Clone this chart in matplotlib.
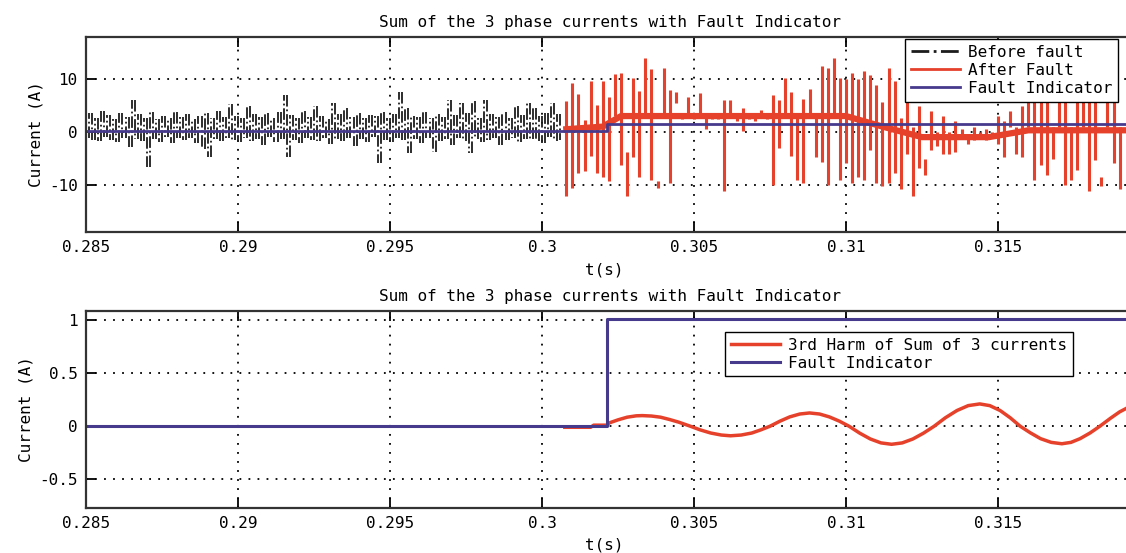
# Librerías
import matplotlib
matplotlib.use("Agg")
import matplotlib.pyplot as plt
import numpy as np

# %% Datos
paso = 0.0001          # separación entre muestras (s)
t0_antes = 0.285       # inicio de la señal antes de la falla
t0_despues = 0.3008    # inicio de la señal después de la falla

# Suma de corrientes antes de la falla (A)
antes = [2.8, -1.2, 3.5, -1.5, 2.6, -1.8, 3.9, -1.0, 3.2, -1.6,
         2.4, -2.0, 3.6, -1.1, 2.9, -2.9, 6.1, -1.3, 3.3, -1.7,
         2.7, -6.6, 3.8, -1.4, 2.5, -1.9, 3.1, -1.0, 2.6, -2.2,
         3.7, -1.2, 2.8, -1.6, 3.4, -1.1, 2.5, -2.1, 3.0, -3.2,
         3.6, -4.7, 2.7, -1.3, 3.9, -1.8, 2.9, -1.2, 5.2, -1.5,
         3.1, -2.0, 2.6, -1.1, 4.9, -1.7, 3.3, -1.3, 2.8, -2.4,
         3.5, -1.0, 2.7, -1.9, 3.8, -1.4, 7.0, -4.7, 3.2, -1.6,
         2.6, -2.1, 3.9, -1.2, 2.9, -1.5, 4.9, -1.8, 3.1, -1.1,
         2.5, -2.3, 5.5, -1.4, 3.4, -1.7, 4.6, -1.2, 2.8, -2.6,
         3.6, -1.3, 2.7, -1.9, 3.2, -1.0, 3.0, -6.0, 3.7, -1.5,
         2.6, -2.0, 3.3, -1.2, 7.6, -1.6, 4.6, -4.1, 3.1, -1.3,
         2.9, -2.2, 3.8, -1.1, 2.6, -3.8, 3.4, -1.7, 2.8, -1.4,
         6.1, -2.5, 3.2, -1.2, 5.5, -1.8, 3.6, -4.1, 5.8, -1.3,
         2.7, -2.0, 6.1, -1.5, 3.3, -1.1, 2.9, -2.4, 3.7, -1.6,
         2.6, -1.2, 4.9, -1.9, 3.2, -1.4, 5.5, -1.3, 4.6, -1.7,
         3.0, -2.2, 3.5, -1.0, 5.5, -1.8, 3.3, -1.5]

# Suma de corrientes después de la falla (A)
despues = [5.9, -12.2, 9.2, -10.6, 7.2, -7.8, 2.2, -7.5, 9.6, -4.5,
           5.1, -7.8, 9.6, -8.5, 6.7, -9.4, 3.0, 10.9, -6.3, 11.2,
           -3.8, -12.2, 10.3, -4.8, 7.8, -8.5, 3.0, 14.0, -9.1, 12.0,
           -9.4, -10.6, 12.2, 3.0, 8.0, -9.7, 7.5, 5.4, 3.0, 2.5,
           3.5, 6.7, 3.0, 2.5, 3.0, 7.4, 0.5, 3.0, 2.5, 3.0,
           2.5, 3.0, 6.0, -11.2, 6.0, 3.0, 3.5, 2.0, 4.5, 0.2,
           3.0, 2.5, 3.5, 2.0, 3.0, 4.2, 2.5, 3.0, 6.9, -10.1,
           6.1, -3.1, 3.0, 10.3, -4.5, 7.5, -9.1, 3.0, 6.3, -9.7,
           3.0, 8.2, -4.8, 3.0, 12.5, -5.7, 12.2, -10.1, 3.0, 14.1,
           -9.1, 10.3, -6.0, 10.0, 11.2, -9.7, 10.0, -8.5, 11.5, -9.1,
           10.7, -3.5, 8.8, -9.7, 5.7, -10.3, 12.2, -9.7, 9.7, -7.8,
           2.6, -10.9, -4.2, 6.0, -12.2, 1.0, -6.9, 5.0, -5.1, -8.2,
           4.0, -3.5, 0.0, -2.6, 3.0, -4.2, 0.0, -4.2, 2.0, -3.8,
           -1.0, 0.5, -2.3, -1.0, 1.0, -1.5, 0.0, -1.0, 0.5, -1.5,
           0.0, -1.0, -2.3, 3.0, -4.8, 2.0, 1.0, 4.0, -4.2, 1.0,
           5.0, -4.8, 1.0, 6.0, -9.1, 6.0, -6.3, 6.0, -8.2, 6.0,
           1.0, -5.1, 7.0, 1.0, -10.0, 7.0, 1.0, -9.1, 7.0, -7.2,
           7.0, 1.0, -11.2, 7.0, -5.4, 7.0, -8.5, -10.3, 7.0, 1.0,
           -6.0, 7.0, 1.0, -10.9, 7.0]

# Franja central de la señal después de la falla (nivel medio leído)
banda_t = [0.3008, 0.3020, 0.3026, 0.3100, 0.3112, 0.3125, 0.3147, 0.3160, 0.3192]
banda_v = [0.5, 1.0, 3.0, 3.0, 1.0, -1.0, -1.0, 0.3, 0.3]

# Indicador de falla (escalón)
ind_t = [0.285, 0.30215, 0.32]
ind_sup = [0.2, 1.4, 1.4]
ind_inf = [0.0, 1.01, 1.01]

# Tercer armónico de la suma de las 3 corrientes
harm_t = [0.30075, 0.3016, 0.3017, 0.30215,
          0.3022, 0.3025, 0.3028, 0.3031, 0.3033, 0.3036, 0.3039, 0.3042, 0.3045, 0.30488,
          0.3052, 0.30555, 0.3059, 0.3062, 0.30655, 0.3069, 0.3072, 0.3075,
          0.30783, 0.30815, 0.30848, 0.3088, 0.30913, 0.30945, 0.30978, 0.3101,
          0.31045, 0.3108, 0.31115, 0.3115, 0.31185, 0.3122, 0.31255, 0.3129,
          0.31327, 0.31365, 0.31402, 0.3144, 0.31473, 0.31507, 0.3154, 0.31573,
          0.31607, 0.3164, 0.31675, 0.3171, 0.3174, 0.3177, 0.31803, 0.31835,
          0.3187, 0.3190, 0.3193, 0.3197]
harm_v = [-0.01, -0.01, 0.01, 0.01,
          0.03, 0.06, 0.085, 0.098, 0.10, 0.096, 0.085, 0.063, 0.038, 0.0,
          -0.034, -0.064, -0.083, -0.09, -0.083, -0.064, -0.034, 0.0,
          0.048, 0.088, 0.115, 0.125, 0.115, 0.088, 0.048, 0.0,
          -0.065, -0.12, -0.157, -0.17, -0.157, -0.12, -0.065, 0.0,
          0.08, 0.148, 0.194, 0.21, 0.194, 0.148, 0.08, 0.0,
          -0.063, -0.117, -0.152, -0.165, -0.152, -0.117, -0.063, 0.0,
          0.075, 0.135, 0.18, 0.2]

xticks = [0.285, 0.29, 0.295, 0.3, 0.305, 0.31, 0.315]
yticks_sup = [-10, 0, 10]
yticks_inf = [-0.5, 0, 0.5, 1]
titulo = "Sum of the 3 phase currents with Fault Indicator"

# Colores
rojo = "#e5412b"
morado = "#463a8c"
negro = "#1c1c1c"

# %% Figura
plt.rcParams['font.family'] = ['DejaVu Sans Mono']
plt.rcParams['axes.unicode_minus'] = False

t_antes = t0_antes + paso * np.arange(len(antes))
t_despues = t0_despues + paso * np.arange(len(despues))
antes = np.array(antes)
despues = np.array(despues)

fig = plt.figure(figsize=(11.26, 5.53), dpi=100)
W, H = 1126, 553
# los ejes siguen más allá del borde derecho, como en la imagen recortada
ax1 = fig.add_axes([86 / W, 1 - 232 / H, 1064 / W, (232 - 37) / H])
ax2 = fig.add_axes([86 / W, 1 - 508 / H, 1064 / W, (508 - 311) / H])

# señal muy densa: los saltos entre muestras se dibujan como trazos verticales
ax1.vlines(t_antes[:-1], antes[:-1], antes[1:], color=negro, linestyles='-.', linewidth=1.3)
# después de la falla: un trazo por cada par de muestras (pico arriba / pico abajo)
n = len(despues) // 2 * 2
ax1.vlines(t_despues[0:n:2], despues[0:n:2], despues[1:n:2], color=rojo, linewidth=2.2)
ax1.plot(banda_t, banda_v, color=rojo, linewidth=4.5)
ax1.plot([], [], color=negro, linestyle='-.', linewidth=2.0, label='Before fault')
ax1.plot([], [], color=rojo, linewidth=2.0, label='After Fault')
ax1.plot(ind_t, ind_sup, color=morado, linewidth=2.0, drawstyle='steps-post', label='Fault Indicator')

ax2.plot(harm_t, harm_v, color=rojo, linewidth=2.5, label='3rd Harm of Sum of 3 currents')
ax2.plot(ind_t, ind_inf, color=morado, linewidth=2.2, drawstyle='steps-post', label='Fault Indicator')

for ax, yt, ylim in [(ax1, yticks_sup, (-19, 18)), (ax2, yticks_inf, (-0.77, 1.085))]:
    ax.set_xlim(0.285, 0.32)
    ax.set_ylim(*ylim)
    ax.set_xticks(xticks)
    ax.set_xticklabels(['%g' % v for v in xticks])
    ax.set_yticks(yt)
    ax.set_yticklabels(['%g' % v for v in yt])
    ax.grid(True, linestyle=(0, (1, 4)), color='k', linewidth=1.3)
    ax.tick_params(direction='in', top=True, right=True, length=7, width=1.3,
                   labelsize=11.5, pad=6)
    for s in ax.spines.values():
        s.set_linewidth(1.6)
        s.set_color('#333333')
    ax.set_title(titulo, fontsize=11.5, x=0.4925, pad=7)
    ax.set_xlabel('t(s)', fontsize=11.5)
    ax.xaxis.set_label_coords(0.487, -0.155 if ax is ax1 else -0.15)
    ax.set_ylabel('Current (A)', fontsize=11.5)

ax1.legend(loc='upper left', bbox_to_anchor=(905 / W, 1 - 39 / H), bbox_transform=fig.transFigure,
           borderaxespad=0, fancybox=False, framealpha=1, edgecolor='k', fontsize=11.5,
           handlelength=3.1, handletextpad=0.5, labelspacing=0.2, borderpad=0.35)
ax2.legend(loc='upper left', bbox_to_anchor=(725 / W, 1 - 332 / H), bbox_transform=fig.transFigure,
           borderaxespad=0, fancybox=False, framealpha=1, edgecolor='k', fontsize=11.5,
           handlelength=3.1, handletextpad=0.5, labelspacing=0.2, borderpad=0.35)

fig.savefig('out.png', dpi=100)
